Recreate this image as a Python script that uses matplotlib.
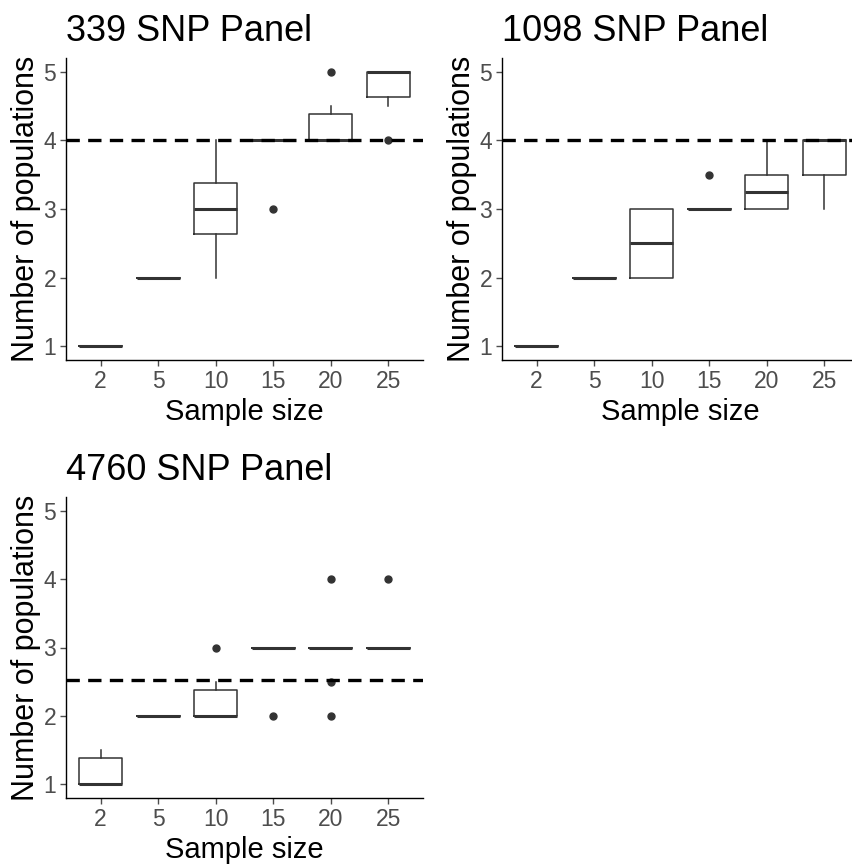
import matplotlib.pyplot as plt
import numpy as np

plt.rcParams['font.family'] = ['Liberation Sans', 'DejaVu Sans']

sizes = ['2', '5', '10', '15', '20', '25']

# 339 SNP panel: per sample size -> q1, median, q3, whisker low, whisker high, outliers
p339_q1 = [1, 2, 2.63, 4, 4.0, 4.63]
p339_med = [1, 2, 3.0, 4, 4.0, 5.0]
p339_q3 = [1, 2, 3.38, 4, 4.38, 5.0]
p339_lo = [1, 2, 2.0, 4, 4.0, 4.5]
p339_hi = [1, 2, 4.0, 4, 4.5, 5.0]
p339_out = [[], [], [], [3], [5], [4]]

p1098_q1 = [1, 2, 2.0, 3, 3.0, 3.5]
p1098_med = [1, 2, 2.5, 3, 3.25, 4.0]
p1098_q3 = [1, 2, 3.0, 3, 3.5, 4.0]
p1098_lo = [1, 2, 2.0, 3, 3.0, 3.0]
p1098_hi = [1, 2, 3.0, 3, 4.0, 4.0]
p1098_out = [[], [], [], [3.5], [], []]

p4760_q1 = [1.0, 2, 2.0, 3, 3, 3]
p4760_med = [1.0, 2, 2.0, 3, 3, 3]
p4760_q3 = [1.38, 2, 2.38, 3, 3, 3]
p4760_lo = [1.0, 2, 2.0, 3, 3, 3]
p4760_hi = [1.5, 2, 2.5, 3, 3, 3]
p4760_out = [[], [], [3], [2], [4, 2.5, 2], [4]]

ref_lines = [4.0, 4.0, 2.52]
titles = ['339 SNP Panel', '1098 SNP Panel', '4760 SNP Panel']

W, H = 852, 866
fig = plt.figure(figsize=(W / 100, H / 100), dpi=100)


def px_axes(left, top, right, bottom):
    return fig.add_axes([left / W, 1 - bottom / H, (right - left) / W, (bottom - top) / H])


def make_stats(q1, med, q3, lo, hi, out):
    return [dict(q1=a, med=b, q3=c, whislo=d, whishi=e, fliers=f)
            for a, b, c, d, e, f in zip(q1, med, q3, lo, hi, out)]


panels = [
    (px_axes(66, 58, 423, 360), make_stats(p339_q1, p339_med, p339_q3, p339_lo, p339_hi, p339_out)),
    (px_axes(502, 58, 859, 360), make_stats(p1098_q1, p1098_med, p1098_q3, p1098_lo, p1098_hi, p1098_out)),
    (px_axes(66, 497, 423, 798), make_stats(p4760_q1, p4760_med, p4760_q3, p4760_lo, p4760_hi, p4760_out)),
]

for (ax, stats), title, ref in zip(panels, titles, ref_lines):
    pos = np.arange(1, len(sizes) + 1)
    ax.axhline(ref, color='black', lw=2.4, ls=(0, (4.0, 2.5)), zorder=3)
    ax.bxp(stats, positions=pos, widths=0.75, showcaps=False,
           boxprops=dict(color='#333333', lw=1.1),
           whiskerprops=dict(color='#333333', lw=1.1),
           medianprops=dict(color='#333333', lw=2.2),
           flierprops=dict(marker='o', markerfacecolor='#333333', markeredgecolor='#333333',
                           markersize=5),
           zorder=2)
    ax.set_xlim(0.4, 6.6)
    ax.set_ylim(0.8, 5.2)
    ax.set_xticks(pos)
    ax.set_xticklabels(sizes)
    ax.set_yticks([1, 2, 3, 4, 5])
    ax.tick_params(labelsize=16.5, colors='#4D4D4D', length=4, width=1, pad=3)
    for s in ['top', 'right']:
        ax.spines[s].set_visible(False)
    for s in ['left', 'bottom']:
        ax.spines[s].set_color('black')
        ax.spines[s].set_linewidth(1)
    ax.set_xlabel('Sample size', fontsize=21, labelpad=4)
    ax.set_ylabel('Number of populations', fontsize=22, labelpad=2)
    ax.set_title(title, fontsize=26, loc='left', pad=12)

fig.savefig('out.png', dpi=100)
